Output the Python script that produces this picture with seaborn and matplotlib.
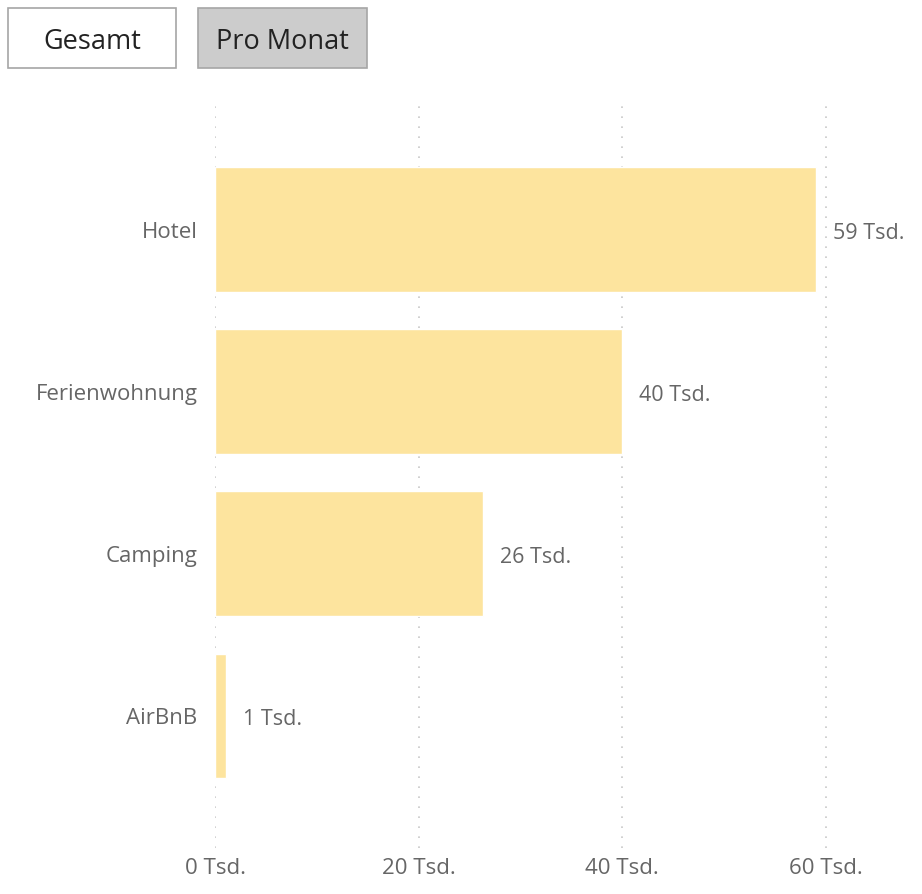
import matplotlib
matplotlib.use("Agg")
import matplotlib.pyplot as plt
import seaborn as sns
import pandas as pd
from matplotlib.patches import Rectangle

categories = ["Hotel", "Ferienwohnung", "Camping", "AirBnB"]
values = [59, 40, 26.3, 1.1]
value_labels = ["59 Tsd.", "40 Tsd.", "26 Tsd.", "1 Tsd."]
tick_values = [0, 20, 40, 60]
tick_labels = ["0 Tsd.", "20 Tsd.", "40 Tsd.", "60 Tsd."]
buttons = ["Gesamt", "Pro Monat"]

sns.set_theme(style="white")
plt.rcParams['font.family'] = ['Open Sans', 'DejaVu Sans']

W, H = 922, 894
fig = plt.figure(figsize=(W / 100, H / 100), dpi=100)

ax_left, ax_right = 215, 905
ax_top, ax_bottom = 105, 848
ax = fig.add_axes([ax_left / W, 1 - ax_bottom / H, (ax_right - ax_left) / W, (ax_bottom - ax_top) / H])

df = pd.DataFrame({"cat": categories, "val": values})
sns.barplot(data=df, x="val", y="cat", color="#FDE49E", saturation=1, width=0.77, ax=ax, zorder=2)

px_per_unit = (826 - 215) / 60
ax.set_xlim(0, (ax_right - ax_left) / px_per_unit)
ax.set_ylim(3.815, -0.77)

ax.set_xticks(tick_values)
ax.set_xticklabels(tick_labels, fontsize=16, color="#666666")
ax.tick_params(axis="x", length=0, pad=7)
ax.tick_params(axis="y", length=0, pad=12.5, labelsize=16, labelcolor="#666666")
for lbl in ax.get_yticklabels():
    lbl.set_va("center_baseline")
ax.set_xlabel("")
ax.set_ylabel("")
for s in ax.spines.values():
    s.set_visible(False)
for t in tick_values:
    ax.axvline(t, color="#C8C8C8", linestyle=(0, (1, 5)), linewidth=1.2, zorder=1)

for i, (v, lab) in enumerate(zip(values, value_labels)):
    ax.annotate(lab, xy=(v, i), xytext=(17, -4), textcoords="offset pixels",
                va="center", ha="left", fontsize=15.5, color="#666666")

# buttons
boxes = [(8, 8, 168, 60, "white"), (198, 8, 169, 60, "#CCCCCC")]
for (x, y, w, h, fc), txt in zip(boxes, buttons):
    r = Rectangle((x / W, 1 - (y + h) / H), w / W, h / H, transform=fig.transFigure,
                  facecolor=fc, edgecolor="#A6A6A6", linewidth=1.2)
    fig.add_artist(r)
    fig.text((x + w / 2) / W, 1 - (y + h / 2 + 4) / H, txt, ha="center", va="center",
             fontsize=19.5, color="#222222")

fig.savefig("out.png", dpi=100)
